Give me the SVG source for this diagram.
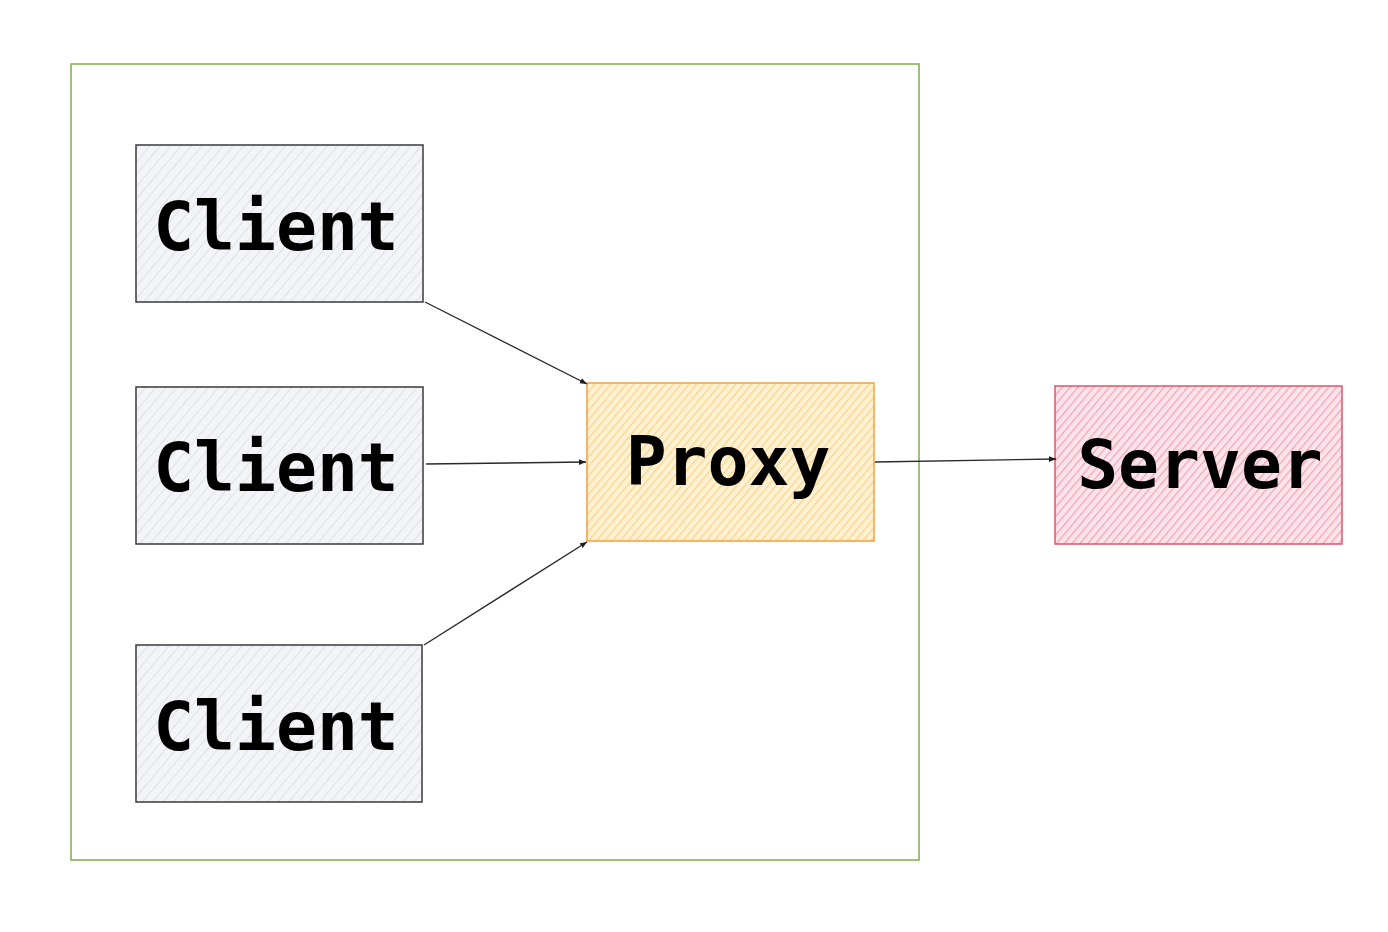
<svg xmlns="http://www.w3.org/2000/svg" width="1388" height="932" viewBox="0 0 1388 932">
<defs>
<pattern id="hGray" patternUnits="userSpaceOnUse" width="8" height="8" patternTransform="rotate(40)">
<rect width="8" height="8" fill="#f3f4f7"/>
<line x1="0" y1="0" x2="0" y2="8" stroke="#d9dadf" stroke-width="1.5"/>
</pattern>
<pattern id="hOrange" patternUnits="userSpaceOnUse" width="6" height="6" patternTransform="rotate(40)">
<rect width="6" height="6" fill="#fff1d2"/>
<line x1="0" y1="0" x2="0" y2="6" stroke="#fbd48a" stroke-width="2.5"/>
</pattern>
<pattern id="hPink" patternUnits="userSpaceOnUse" width="6" height="6" patternTransform="rotate(40)">
<rect width="6" height="6" fill="#fbe3ea"/>
<line x1="0" y1="0" x2="0" y2="6" stroke="#f3a4b8" stroke-width="2.5"/>
</pattern>
<marker id="arr" viewBox="0 0 10 10" refX="10" refY="5" markerWidth="7" markerHeight="7" markerUnits="userSpaceOnUse" orient="auto">
<path d="M0,1 L10,5 L0,9 z" fill="#1e1e1e"/>
</marker>
</defs>
<style>
.lbl{font-family:"DejaVu Sans Mono","Liberation Mono",monospace;font-size:68px;font-weight:bold;fill:#000;text-anchor:middle}
.client{fill:url(#hGray);stroke:#3a3a3a;stroke-width:1.5}
.conn{stroke:#2a2a2a;stroke-width:1.4;fill:none;marker-end:url(#arr)}
</style>
<g id="frame">
<rect x="71" y="64" width="848" height="796" fill="none" stroke="#7cad4b" stroke-width="1.5"/>
</g>
<g id="client1">
<rect class="client" x="136" y="145" width="287" height="157"/>
<text class="lbl" x="276" y="250">Client</text>
</g>
<g id="client2">
<rect class="client" x="136" y="387" width="287" height="157"/>
<text class="lbl" x="276" y="491">Client</text>
</g>
<g id="client3">
<rect class="client" x="136" y="645" width="286" height="157"/>
<text class="lbl" x="276" y="750">Client</text>
</g>
<g id="proxy">
<rect x="587" y="383" width="287" height="158" fill="url(#hOrange)" stroke="#f59f3c" stroke-width="1.5"/>
<text class="lbl" x="728" y="485">Proxy</text>
</g>
<g id="server">
<rect x="1055" y="386" width="287" height="158" fill="url(#hPink)" stroke="#e0566b" stroke-width="1.5"/>
<text class="lbl" x="1200" y="488">Server</text>
</g>
<g id="connectors">
<line class="conn" x1="425" y1="302" x2="587" y2="384"/>
<line class="conn" x1="426" y1="464" x2="586" y2="462"/>
<line class="conn" x1="424" y1="645" x2="587" y2="542"/>
<line class="conn" x1="875" y1="462" x2="1056" y2="459"/>
</g>
</svg>
